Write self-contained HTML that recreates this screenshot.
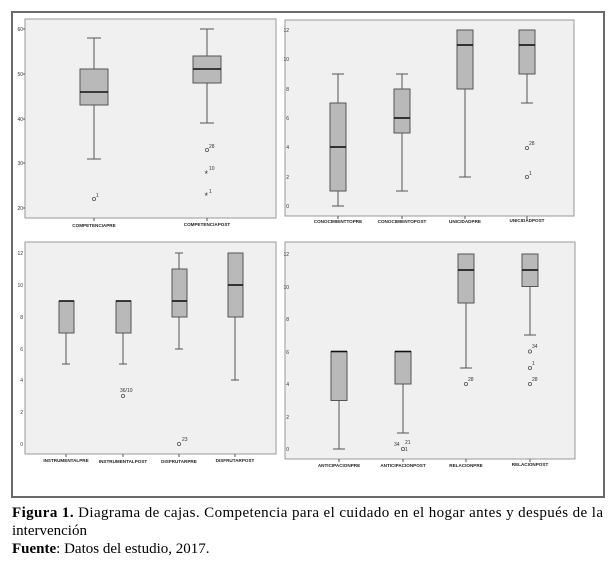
<!DOCTYPE html>
<html><head><meta charset="utf-8"><style>
html,body{margin:0;padding:0;background:#fff;width:610px;height:566px;overflow:hidden}
svg{display:block}
.t{font-family:"Liberation Sans",sans-serif;font-size:5px;fill:#333}
.s{font-family:"Liberation Sans",sans-serif;font-size:9px;fill:#333}
.c{font-family:"Liberation Sans",sans-serif;font-size:4.6px;font-weight:bold;fill:#222}
.bx{fill:#b9b9b9;stroke:#555;stroke-width:1}
.w{stroke:#555;stroke-width:1;fill:none}
.m{stroke:#111;stroke-width:1.6}
.o{fill:none;stroke:#555;stroke-width:0.8}
.pl{fill:#f0f0f0;stroke:#999;stroke-width:1}
.cap{font-family:"Liberation Serif",serif;font-size:15px;fill:#000}
</style></head><body>
<svg width="610" height="566" viewBox="0 0 610 566" xmlns="http://www.w3.org/2000/svg">
<rect x="12" y="12" width="592" height="485" fill="#fff" stroke="#6a6a6a" stroke-width="2"/>

<!-- Panel 1 -->
<rect class="pl" x="25" y="19" width="251" height="199"/>
<g class="t" text-anchor="end">
<text x="23" y="31">60</text><text x="23" y="76">50</text><text x="23" y="121">40</text><text x="23" y="165">30</text><text x="23" y="210">20</text>
</g>
<g class="w"><line x1="23" y1="29" x2="25" y2="29"/><line x1="23" y1="74" x2="25" y2="74"/><line x1="23" y1="119" x2="25" y2="119"/><line x1="23" y1="163" x2="25" y2="163"/><line x1="23" y1="208" x2="25" y2="208"/>
<line x1="94" y1="218" x2="94" y2="221"/><line x1="207" y1="218" x2="207" y2="221"/></g>
<line class="w" x1="94" y1="38" x2="94" y2="159"/>
<line class="w" x1="87" y1="38" x2="101" y2="38"/><line class="w" x1="87" y1="159" x2="101" y2="159"/>
<rect class="bx" x="80" y="69" width="28" height="36"/>
<line class="m" x1="80" y1="92" x2="108" y2="92"/>
<circle class="o" cx="94" cy="199" r="1.6"/><text class="t" x="96" y="197">1</text>
<line class="w" x1="207" y1="29" x2="207" y2="123"/>
<line class="w" x1="200" y1="29" x2="214" y2="29"/><line class="w" x1="200" y1="123" x2="214" y2="123"/>
<rect class="bx" x="193" y="56" width="28" height="27"/>
<line class="m" x1="193" y1="69" x2="221" y2="69"/>
<circle class="o" cx="207" cy="150" r="1.6"/><text class="t" x="209" y="148">28</text>
<text class="s" x="204.5" y="177">*</text><text class="t" x="209" y="170">10</text>
<text class="s" x="204.5" y="199">*</text><text class="t" x="209" y="193">1</text>
<g class="c" text-anchor="middle"><text x="94" y="227">COMPETENCIAPRE</text><text x="207" y="226">COMPETENCIAPOST</text></g>

<!-- Panel 2 -->
<rect class="pl" x="285" y="20" width="289" height="196"/>
<g class="t" text-anchor="end">
<text x="289" y="32">12</text><text x="289" y="61">10</text><text x="289" y="91">8</text><text x="289" y="120">6</text><text x="289" y="149">4</text><text x="289" y="179">2</text><text x="289" y="208">0</text>
</g>
<g class="w"><line x1="338" y1="216" x2="338" y2="219"/><line x1="402" y1="216" x2="402" y2="219"/><line x1="465" y1="216" x2="465" y2="219"/><line x1="527" y1="216" x2="527" y2="219"/></g>
<line class="w" x1="338" y1="74" x2="338" y2="206"/><line class="w" x1="332" y1="74" x2="344" y2="74"/><line class="w" x1="332" y1="206" x2="344" y2="206"/>
<rect class="bx" x="330" y="103" width="16" height="88"/><line class="m" x1="330" y1="147" x2="346" y2="147"/>
<line class="w" x1="402" y1="74" x2="402" y2="191"/><line class="w" x1="396" y1="74" x2="408" y2="74"/><line class="w" x1="396" y1="191" x2="408" y2="191"/>
<rect class="bx" x="394" y="89" width="16" height="44"/><line class="m" x1="394" y1="118" x2="410" y2="118"/>
<line class="w" x1="465" y1="30" x2="465" y2="177"/><line class="w" x1="459" y1="177" x2="471" y2="177"/>
<rect class="bx" x="457" y="30" width="16" height="59"/><line class="m" x1="457" y1="45" x2="473" y2="45"/>
<line class="w" x1="527" y1="30" x2="527" y2="103"/><line class="w" x1="521" y1="103" x2="533" y2="103"/>
<rect class="bx" x="519" y="30" width="16" height="44"/><line class="m" x1="519" y1="45" x2="535" y2="45"/>
<circle class="o" cx="527" cy="148" r="1.6"/><text class="t" x="529" y="145">28</text>
<circle class="o" cx="527" cy="177" r="1.6"/><text class="t" x="529" y="175">1</text>
<g class="c" text-anchor="middle"><text x="338" y="223">CONOCIMIENTTOPRE</text><text x="402" y="223">CONOCIMIENTOPOST</text><text x="465" y="223">UNICIDADPRE</text><text x="527" y="222">UNICIDADPOST</text></g>

<!-- Panel 3 -->
<rect class="pl" x="25" y="242" width="251" height="212"/>
<g class="t" text-anchor="end">
<text x="23" y="255">12</text><text x="23" y="287">10</text><text x="23" y="319">8</text><text x="23" y="351">6</text><text x="23" y="382">4</text><text x="23" y="414">2</text><text x="23" y="446">0</text>
</g>
<g class="w"><line x1="66" y1="454" x2="66" y2="457"/><line x1="123" y1="454" x2="123" y2="457"/><line x1="179" y1="454" x2="179" y2="457"/><line x1="235" y1="454" x2="235" y2="457"/></g>
<line class="w" x1="66" y1="333" x2="66" y2="364"/><line class="w" x1="62" y1="364" x2="70" y2="364"/>
<rect class="bx" x="59" y="301" width="15" height="32"/><line class="m" x1="59" y1="301" x2="74" y2="301"/>
<line class="w" x1="123" y1="333" x2="123" y2="364"/><line class="w" x1="119" y1="364" x2="127" y2="364"/>
<rect class="bx" x="116" y="301" width="15" height="32"/><line class="m" x1="116" y1="301" x2="131" y2="301"/>
<circle class="o" cx="123" cy="396" r="1.6"/><text class="t" x="120" y="392">36/10</text>
<line class="w" x1="179" y1="253" x2="179" y2="349"/><line class="w" x1="175" y1="253" x2="183" y2="253"/><line class="w" x1="175" y1="349" x2="183" y2="349"/>
<rect class="bx" x="172" y="269" width="15" height="48"/><line class="m" x1="172" y1="301" x2="187" y2="301"/>
<circle class="o" cx="179" cy="444" r="1.6"/><text class="t" x="182" y="441">23</text>
<line class="w" x1="235" y1="317" x2="235" y2="380"/><line class="w" x1="231" y1="380" x2="239" y2="380"/>
<rect class="bx" x="228" y="253" width="15" height="64"/><line class="m" x1="228" y1="285" x2="243" y2="285"/>
<g class="c" text-anchor="middle"><text x="66" y="462">INSTRUMENTALPRE</text><text x="123" y="463">INSTRUMENTALPOST</text><text x="179" y="463">DISFRUTARPRE</text><text x="235" y="462">DISFRUTARPOST</text></g>

<!-- Panel 4 -->
<rect class="pl" x="285" y="242" width="290" height="217"/>
<g class="t" text-anchor="end">
<text x="289" y="256">12</text><text x="289" y="289">10</text><text x="289" y="321">8</text><text x="289" y="354">6</text><text x="289" y="386">4</text><text x="289" y="419">2</text><text x="289" y="451">0</text>
</g>
<g class="w"><line x1="339" y1="459" x2="339" y2="462"/><line x1="403" y1="459" x2="403" y2="462"/><line x1="466" y1="459" x2="466" y2="462"/><line x1="530" y1="459" x2="530" y2="462"/></g>
<line class="w" x1="339" y1="400" x2="339" y2="449"/><line class="w" x1="333" y1="449" x2="345" y2="449"/>
<rect class="bx" x="331" y="351.5" width="16" height="49"/><line class="m" x1="331" y1="351.5" x2="347" y2="351.5"/>
<line class="w" x1="403" y1="384" x2="403" y2="433"/><line class="w" x1="397" y1="433" x2="409" y2="433"/>
<rect class="bx" x="395" y="351.5" width="16" height="32.5"/><line class="m" x1="395" y1="351.5" x2="411" y2="351.5"/>
<circle class="o" cx="403" cy="449" r="1.6"/><text class="t" x="394" y="446">34</text><text class="t" x="405" y="444">21</text><text class="t" x="405" y="451">1</text>
<line class="w" x1="466" y1="303" x2="466" y2="368"/><line class="w" x1="460" y1="368" x2="472" y2="368"/>
<rect class="bx" x="458" y="254" width="16" height="49"/><line class="m" x1="458" y1="270" x2="474" y2="270"/>
<circle class="o" cx="466" cy="384" r="1.6"/><text class="t" x="468" y="381">28</text>
<line class="w" x1="530" y1="286" x2="530" y2="335"/><line class="w" x1="524" y1="335" x2="536" y2="335"/>
<rect class="bx" x="522" y="254" width="16" height="32.5"/><line class="m" x1="522" y1="270" x2="538" y2="270"/>
<circle class="o" cx="530" cy="351.5" r="1.6"/><text class="t" x="532" y="348">34</text>
<circle class="o" cx="530" cy="368" r="1.6"/><text class="t" x="532" y="365">1</text>
<circle class="o" cx="530" cy="384" r="1.6"/><text class="t" x="532" y="381">28</text>
<g class="c" text-anchor="middle"><text x="339" y="467">ANTICIPACIONPRE</text><text x="403" y="467">ANTICIPACIONPOST</text><text x="466" y="467">RELACIONPRE</text><text x="530" y="466">RELACIONPOST</text></g>

<!-- Caption -->
<text class="cap" x="12" y="517" textLength="591" lengthAdjust="spacing"><tspan font-weight="bold">Figura 1.</tspan> Diagrama de cajas. Competencia para el cuidado en el hogar antes y después de la</text>
<text class="cap" x="12" y="535">intervención</text>
<text class="cap" x="12" y="553"><tspan font-weight="bold">Fuente</tspan>: Datos del estudio, 2017.</text>
</svg>
</body></html>
